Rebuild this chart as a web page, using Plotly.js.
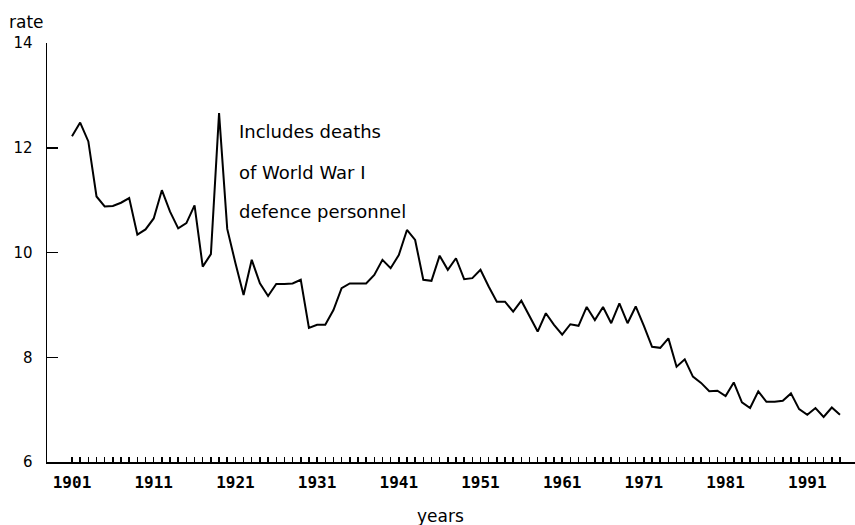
<!DOCTYPE html>
<html>
<head>
<meta charset="utf-8">
<script src="https://cdn.plot.ly/plotly-3.0.1.min.js"></script>
<style>html,body{margin:0;padding:0;background:#fff;}#chart{width:855px;height:525px;}</style>
</head>
<body>
<div id="chart"></div>
<script>
const years = [];
for (let y = 1901; y <= 1995; y++) years.push(y);

const rates = [
  12.22, 12.48, 12.12, 11.07, 10.88, 10.89, 10.95, 11.04, 10.34, 10.44,
  10.65, 11.19, 10.78, 10.46, 10.56, 10.90, 9.73, 9.97, 12.66, 10.45,
  9.80, 9.19, 9.86, 9.41, 9.17, 9.40, 9.40, 9.41, 9.48, 8.56,
  8.62, 8.62, 8.90, 9.32, 9.41, 9.41, 9.41, 9.57, 9.86, 9.70,
  9.95, 10.43, 10.24, 9.48, 9.46, 9.94, 9.67, 9.89, 9.49, 9.51,
  9.67, 9.35, 9.06, 9.06, 8.87, 9.08, 8.78, 8.49, 8.84, 8.62,
  8.43, 8.63, 8.60, 8.96, 8.71, 8.96, 8.65, 9.03, 8.65, 8.97,
  8.60, 8.20, 8.18, 8.36, 7.82, 7.96, 7.63, 7.51, 7.35, 7.36,
  7.26, 7.52, 7.14, 7.03, 7.35, 7.15, 7.15, 7.17, 7.31, 7.01,
  6.90, 7.03, 6.86, 7.04, 6.90
];

const labelYears = [1901, 1911, 1921, 1931, 1941, 1951, 1961, 1971, 1981, 1991];
const yTicks = [6, 8, 10, 12, 14];
const noteLines = ["Includes deaths", "of World War I", "defence personnel"];
const yTitle = "rate";
const xTitle = "years";

const tickText = years.map(y => labelYears.includes(y) ? String(y) : "");

const textFont = {family: "DejaVu Sans, Liberation Sans, sans-serif", size: 17, color: "#000"};
const noteFont = {family: "DejaVu Sans, Liberation Sans, sans-serif", size: 18, color: "#000"};

const noteY = [0.7876, 0.6921, 0.599];
const annotations = noteLines.map((t, i) => ({
  text: t, xref: "paper", yref: "paper", x: 0.2351, y: noteY[i],
  xanchor: "left", yanchor: "middle", showarrow: false, font: noteFont
}));
annotations.push({text: yTitle, xref: "paper", yref: "paper", x: -0.0248, y: 1.0501,
  xanchor: "center", yanchor: "middle", showarrow: false, font: textFont});
annotations.push({text: xTitle, xref: "paper", yref: "paper", x: 0.4876, y: -0.1289,
  xanchor: "center", yanchor: "middle", showarrow: false, font: textFont});

const trace = {
  x: years, y: rates, type: "scatter", mode: "lines",
  line: {color: "#000", width: 2}, hoverinfo: "skip"
};

const layout = {
  width: 855, height: 525,
  margin: {l: 47, r: 0, t: 43, b: 63, pad: 0},
  paper_bgcolor: "#fff", plot_bgcolor: "#fff",
  showlegend: false,
  xaxis: {
    range: [1897.94, 1996.84],
    tickmode: "array", tickvals: years, ticktext: tickText,
    ticks: "inside", ticklen: 5, tickwidth: 1.5, tickcolor: "#000",
    showline: true, linecolor: "#000", linewidth: 2,
    showgrid: false, zeroline: false,
    tickfont: {family: "DejaVu Sans Mono, Liberation Mono, monospace", size: 16, color: "#000", weight: "bold"},
    ticklabelstandoff: 5
  },
  yaxis: {
    range: [6, 14],
    tickmode: "array", tickvals: yTicks, ticktext: yTicks.map(String),
    ticks: "inside", ticklen: 11, tickwidth: 1.5, tickcolor: "#000",
    showline: true, linecolor: "#000", linewidth: 1.5,
    showgrid: false, zeroline: false,
    tickfont: {family: "DejaVu Sans, Liberation Sans, sans-serif", size: 15, color: "#000"},
    ticklabelstandoff: 10
  },
  annotations: annotations
};

Plotly.newPlot("chart", [trace], layout, {displayModeBar: false, staticPlot: true});
</script>
</body>
</html>
